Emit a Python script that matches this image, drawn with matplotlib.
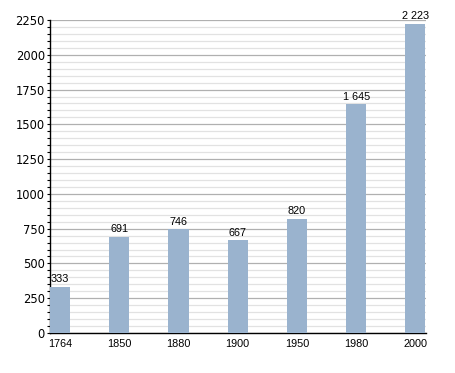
import matplotlib
matplotlib.use("Agg")
import matplotlib.pyplot as plt
from matplotlib.ticker import MultipleLocator

years = ["1764", "1850", "1880", "1900", "1950", "1980", "2000"]
population = [333, 691, 746, 667, 820, 1645, 2223]
labels = ["333", "691", "746", "667", "820", "1 645", "2 223"]

plt.rcParams['font.family'] = ['Liberation Sans', 'DejaVu Sans']
fig = plt.figure(figsize=(4.55, 3.73), dpi=100)
ax = fig.add_axes([50/455, 40/373, 376/455, 313/373])

x = list(range(len(years)))
ax.bar(x, population, width=0.34, color='#9ab3ce', zorder=3)
for xi, v, lab in zip(x, population, labels):
    ax.text(xi, v + 18, lab, ha='center', va='bottom', fontsize=7.8, zorder=4)

ax.set_xlim(-0.17, 6.18)
ax.set_ylim(0, 2250)
ax.yaxis.set_major_locator(MultipleLocator(250))
ax.yaxis.set_minor_locator(MultipleLocator(50))
ax.grid(which='major', axis='y', color='#b0b0b0', linewidth=0.9, zorder=1)
ax.grid(which='minor', axis='y', color='#e2e2e2', linewidth=0.9, zorder=0)
ax.set_xticks(x)
ax.set_xticklabels(years)
ax.tick_params(axis='x', length=0, labelsize=7.8, pad=4)
ax.tick_params(axis='y', which='both', length=2.5, width=0.8, pad=1.2)
for lbl in ax.get_yticklabels():
    lbl.set_fontfamily('DejaVu Sans')
    lbl.set_fontsize(8.3)
for s in ['top', 'right']:
    ax.spines[s].set_visible(False)
ax.spines['left'].set_linewidth(1.0)
ax.spines['bottom'].set_linewidth(1.0)

fig.savefig("out.png", dpi=100)
